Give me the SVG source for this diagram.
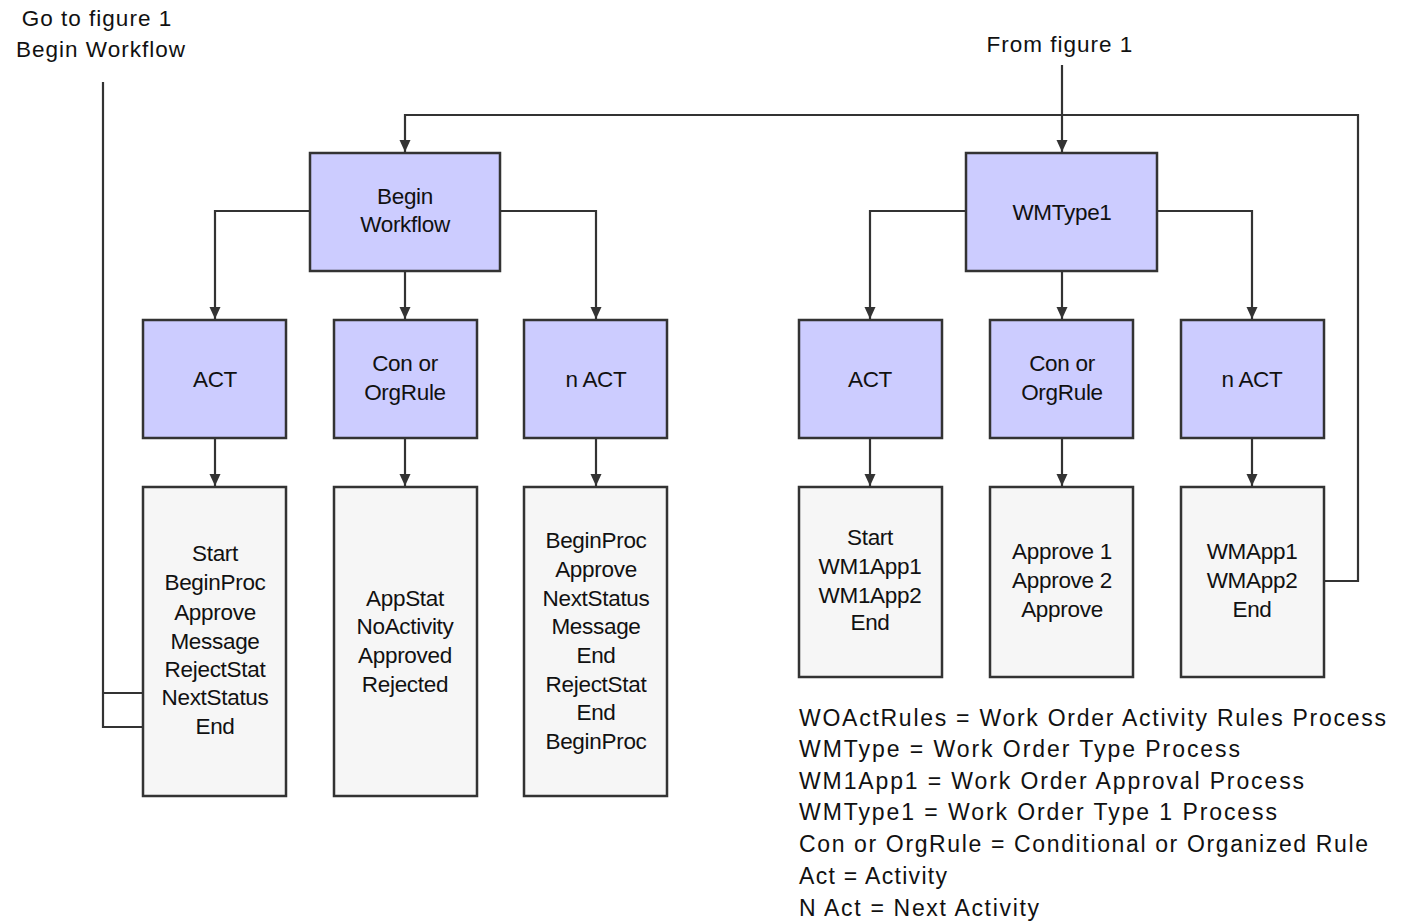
<svg xmlns="http://www.w3.org/2000/svg" width="1403" height="922" viewBox="0 0 1403 922">
<defs>
<marker id="arr" markerUnits="userSpaceOnUse" markerWidth="12" markerHeight="12" viewBox="0 0 12 12" refX="12" refY="6" orient="auto">
<path d="M0,0.5 L12,6 L0,11.5 Z" fill="#333"/>
</marker>
<style>
.n{fill:#ccccff;stroke:#333;stroke-width:2.5}
.l{fill:#f6f6f6;stroke:#333;stroke-width:2.5}
.c{fill:none;stroke:#333;stroke-width:2.2}
text{font-family:"Liberation Sans",Arial,sans-serif;font-size:22.5px;fill:#111;letter-spacing:-0.3px}
.m{text-anchor:middle}
.t{letter-spacing:1px}
.lg{font-size:23px;letter-spacing:0}
</style>
</defs>
<rect width="1403" height="922" fill="#fff"/>

<g id="connectors">
<path class="c" d="M103,82 V727 H153"/>
<path class="c" d="M103,693 H153"/>
<path class="c" d="M1324,581 H1358 V115 H405 V152" marker-end="url(#arr)"/>
<path class="c" d="M1062,65 V152" marker-end="url(#arr)"/>
<path class="c" d="M310,211 H215 V319" marker-end="url(#arr)"/>
<path class="c" d="M405,271 V319" marker-end="url(#arr)"/>
<path class="c" d="M500,211 H596 V319" marker-end="url(#arr)"/>
<path class="c" d="M966,211 H870 V319" marker-end="url(#arr)"/>
<path class="c" d="M1062,271 V319" marker-end="url(#arr)"/>
<path class="c" d="M1157,211 H1252 V319" marker-end="url(#arr)"/>
<path class="c" d="M215,438 V486" marker-end="url(#arr)"/>
<path class="c" d="M405,438 V486" marker-end="url(#arr)"/>
<path class="c" d="M596,438 V486" marker-end="url(#arr)"/>
<path class="c" d="M870,438 V486" marker-end="url(#arr)"/>
<path class="c" d="M1062,438 V486" marker-end="url(#arr)"/>
<path class="c" d="M1252,438 V486" marker-end="url(#arr)"/>
</g>

<g id="label-goto">
<text class="m t" x="97" y="26">Go to figure 1</text>
<text class="m t" x="101" y="57">Begin Workflow</text>
</g>
<g id="label-from">
<text class="m t" x="1060" y="52">From figure 1</text>
</g>

<g id="begin-workflow">
<rect class="n" x="310" y="153" width="190" height="118"/>
<text class="m" x="405" y="204">Begin</text>
<text class="m" x="405" y="232">Workflow</text>
</g>
<g id="wmtype1">
<rect class="n" x="966" y="153" width="191" height="118"/>
<text class="m" x="1062" y="220">WMType1</text>
</g>

<g id="act-left">
<rect class="n" x="143" y="320" width="143" height="118"/>
<text class="m" x="215" y="387">ACT</text>
</g>
<g id="con-left">
<rect class="n" x="334" y="320" width="143" height="118"/>
<text class="m" x="405" y="371">Con or</text>
<text class="m" x="405" y="400">OrgRule</text>
</g>
<g id="nact-left">
<rect class="n" x="524" y="320" width="143" height="118"/>
<text class="m" x="596" y="387">n ACT</text>
</g>
<g id="act-right">
<rect class="n" x="799" y="320" width="143" height="118"/>
<text class="m" x="870" y="387">ACT</text>
</g>
<g id="con-right">
<rect class="n" x="990" y="320" width="143" height="118"/>
<text class="m" x="1062" y="371">Con or</text>
<text class="m" x="1062" y="400">OrgRule</text>
</g>
<g id="nact-right">
<rect class="n" x="1181" y="320" width="143" height="118"/>
<text class="m" x="1252" y="387">n ACT</text>
</g>

<g id="list-act-left">
<rect class="l" x="143" y="487" width="143" height="309"/>
<text class="m" x="215" y="561">Start</text>
<text class="m" x="215" y="590">BeginProc</text>
<text class="m" x="215" y="620">Approve</text>
<text class="m" x="215" y="649">Message</text>
<text class="m" x="215" y="677">RejectStat</text>
<text class="m" x="215" y="705">NextStatus</text>
<text class="m" x="215" y="734">End</text>
</g>
<g id="list-con-left">
<rect class="l" x="334" y="487" width="143" height="309"/>
<text class="m" x="405" y="606">AppStat</text>
<text class="m" x="405" y="634">NoActivity</text>
<text class="m" x="405" y="663">Approved</text>
<text class="m" x="405" y="692">Rejected</text>
</g>
<g id="list-nact-left">
<rect class="l" x="524" y="487" width="143" height="309"/>
<text class="m" x="596" y="548">BeginProc</text>
<text class="m" x="596" y="577">Approve</text>
<text class="m" x="596" y="606">NextStatus</text>
<text class="m" x="596" y="634">Message</text>
<text class="m" x="596" y="663">End</text>
<text class="m" x="596" y="692">RejectStat</text>
<text class="m" x="596" y="720">End</text>
<text class="m" x="596" y="749">BeginProc</text>
</g>
<g id="list-act-right">
<rect class="l" x="799" y="487" width="143" height="190"/>
<text class="m" x="870" y="545">Start</text>
<text class="m" x="870" y="574">WM1App1</text>
<text class="m" x="870" y="603">WM1App2</text>
<text class="m" x="870" y="630">End</text>
</g>
<g id="list-con-right">
<rect class="l" x="990" y="487" width="143" height="190"/>
<text class="m" x="1062" y="559">Approve 1</text>
<text class="m" x="1062" y="588">Approve 2</text>
<text class="m" x="1062" y="617">Approve</text>
</g>
<g id="list-nact-right">
<rect class="l" x="1181" y="487" width="143" height="190"/>
<text class="m" x="1252" y="559">WMApp1</text>
<text class="m" x="1252" y="588">WMApp2</text>
<text class="m" x="1252" y="617">End</text>
</g>

<g id="legend">
<text class="lg" x="799" y="726" textLength="587" lengthAdjust="spacing">WOActRules = Work Order Activity Rules Process</text>
<text class="lg" x="799" y="757" textLength="441" lengthAdjust="spacing">WMType = Work Order Type Process</text>
<text class="lg" x="799" y="789" textLength="505" lengthAdjust="spacing">WM1App1 = Work Order Approval Process</text>
<text class="lg" x="799" y="820" textLength="478" lengthAdjust="spacing">WMType1 = Work Order Type 1 Process</text>
<text class="lg" x="799" y="852" textLength="569" lengthAdjust="spacing">Con or OrgRule = Conditional or Organized Rule</text>
<text class="lg" x="799" y="884" textLength="148" lengthAdjust="spacing">Act = Activity</text>
<text class="lg" x="799" y="916" textLength="240" lengthAdjust="spacing">N Act = Next Activity</text>
</g>
</svg>
